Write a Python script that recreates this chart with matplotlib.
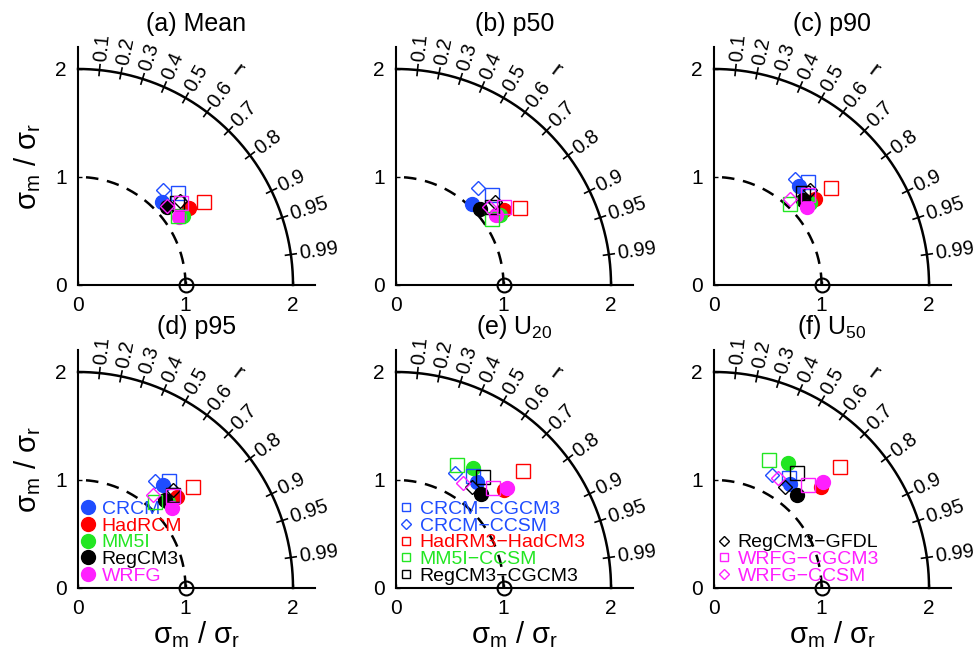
import numpy as np
import matplotlib.pyplot as plt
from matplotlib.lines import Line2D

plt.rcParams['font.family'] = ['Liberation Sans', 'DejaVu Sans']
plt.rcParams['mathtext.fontset'] = 'custom'
plt.rcParams['mathtext.rm'] = 'Liberation Sans'

BLUE = '#1f4dff'
RED = '#ff0000'
GREEN = '#22e622'
BLACK = '#000000'
MAGENTA = '#ff1fff'

# RCM ensemble means (filled circles)
rcm_names = ['CRCM', 'HadRCM', 'MM5I', 'RegCM3', 'WRFG']
rcm_colors = [BLUE, RED, GREEN, BLACK, MAGENTA]

# individual RCM-GCM runs (open markers)
run_names = ['CRCM−CGCM3', 'CRCM−CCSM', 'HadRM3−HadCM3', 'MM5I−CCSM',
             'RegCM3−CGCM3', 'RegCM3−GFDL', 'WRFG−CGCM3', 'WRFG−CCSM']
run_colors = [BLUE, BLUE, RED, GREEN, BLACK, BLACK, MAGENTA, MAGENTA]
run_markers = ['s', 'D', 's', 's', 's', 'D', 's', 'D']

# normalized std (sigma_m / sigma_r) and correlation
# order: 5 RCM means, then the 8 runs
std_mean = [1.096, 1.251, 1.170, 1.099, 1.132,
            1.260, 1.183, 1.401, 1.129, 1.193, 1.229, 1.224, 1.105]
cor_mean = [0.712, 0.823, 0.837, 0.755, 0.831,
            0.738, 0.668, 0.835, 0.824, 0.771, 0.773, 0.784, 0.751]

std_p50 = [1.026, 1.215, 1.164, 1.048, 1.134,
           1.223, 1.178, 1.357, 1.084, 1.148, 1.200, 1.232, 1.125]
cor_p50 = [0.686, 0.823, 0.831, 0.744, 0.820,
           0.733, 0.650, 0.850, 0.826, 0.775, 0.767, 0.812, 0.765]

std_p90 = [1.213, 1.234, 1.171, 1.144, 1.123,
           1.295, 1.235, 1.410, 1.028, 1.188, 1.254, 1.210, 1.068]
cor_p90 = [0.655, 0.762, 0.763, 0.726, 0.768,
           0.673, 0.610, 0.770, 0.688, 0.699, 0.712, 0.725, 0.662]

std_p95 = [1.241, 1.248, 1.160, 1.149, 1.142,
           1.308, 1.225, 1.425, 1.074, 1.230, 1.269, 1.230, 1.110]
cor_p95 = [0.640, 0.736, 0.724, 0.705, 0.763,
           0.650, 0.584, 0.753, 0.667, 0.715, 0.699, 0.721, 0.631]

std_u20 = [1.242, 1.350, 1.321, 1.174, 1.387,
           1.263, 1.195, 1.603, 1.271, 1.304, 1.173, 1.297, 1.151]
cor_u20 = [0.609, 0.741, 0.544, 0.671, 0.743,
           0.567, 0.459, 0.736, 0.444, 0.618, 0.600, 0.698, 0.539]

std_u50 = [1.192, 1.366, 1.346, 1.155, 1.414,
           1.233, 1.176, 1.623, 1.292, 1.312, 1.147, 1.296, 1.178]
cor_u50 = [0.593, 0.727, 0.514, 0.667, 0.718,
           0.568, 0.457, 0.722, 0.398, 0.587, 0.575, 0.677, 0.508]

titles = ['(a) Mean', '(b) p50', '(c) p90', '(d) p95',
          '(e) U$_{20}$', '(f) U$_{50}$']
panel_std = [std_mean, std_p50, std_p90, std_p95, std_u20, std_u50]
panel_cor = [cor_mean, cor_p50, cor_p90, cor_p95, cor_u20, cor_u50]

cor_ticks = [0.1, 0.2, 0.3, 0.4, 0.5, 0.6, 0.7, 0.8, 0.9, 0.95, 0.99]

fig = plt.figure(figsize=(9.74, 6.58), dpi=100)

lefts = [0.0801, 0.4066, 0.7331]
bottoms = [0.5669, 0.1064]
w, h = 0.2428, 0.3611

sig_label = 'σ$_{\\mathregular{m}}$ / σ$_{\\mathregular{r}}$'

for k in range(6):
    row, col = divmod(k, 3)
    ax = fig.add_axes([lefts[col], bottoms[row], w, h])
    ax.set_xlim(0, 2.2)
    ax.set_ylim(0, 2.2)
    for s in ['top', 'right']:
        ax.spines[s].set_visible(False)
    for s in ['left', 'bottom']:
        ax.spines[s].set_linewidth(1.5)
    ax.set_xticks([0, 1, 2])
    ax.set_yticks([0, 1, 2])
    ax.tick_params(direction='in', length=3, width=1, labelsize=15, pad=8)

    # arcs
    t = np.linspace(0, np.pi / 2, 300)
    ax.plot(2 * np.cos(t), 2 * np.sin(t), color='k', lw=1.8, clip_on=False)
    ax.plot(np.cos(t), np.sin(t), color='k', lw=1.8, dashes=(5, 3.5))

    # correlation ticks and labels
    for c in cor_ticks:
        th = np.arccos(c)
        ax.plot([1.95 * np.cos(th), 2.05 * np.cos(th)],
                [1.95 * np.sin(th), 2.05 * np.sin(th)], color='k', lw=1.2,
                clip_on=False)
        ax.text(2.08 * np.cos(th), 2.08 * np.sin(th), f'{c:g}',
                rotation=np.degrees(th), rotation_mode='anchor',
                ha='left', va='center', fontsize=14.5, clip_on=False)
    th_r = np.arccos(0.6)
    ax.text(2.48 * np.cos(th_r), 2.48 * np.sin(th_r), 'r',
            rotation=np.degrees(th_r) - 90, rotation_mode='anchor',
            ha='center', va='center', fontsize=16, clip_on=False)

    # reference point
    ax.plot([1], [0], marker='o', ms=10, mfc='none', mec='k', mew=1.5,
            ls='none', clip_on=False, zorder=5)

    std = np.array(panel_std[k])
    cor = np.array(panel_cor[k])
    th = np.arccos(cor)
    xs = std * np.cos(th)
    ys = std * np.sin(th)

    for i, c in enumerate(rcm_colors):
        ax.plot(xs[i], ys[i], marker='o', ms=10, color=c, ls='none', zorder=6)
    for j, (c, m) in enumerate(zip(run_colors, run_markers)):
        ms = 10 if m == 's' else 7.5
        ax.plot(xs[5 + j], ys[5 + j], marker=m, ms=ms, mfc='none', mec=c,
                mew=1.0, ls='none', zorder=7)

    ax.set_title(titles[k], fontsize=18, pad=12)
    if col == 0:
        ax.set_ylabel(sig_label, fontsize=21)
        ax.yaxis.set_label_coords(-0.15, 0.5)
    if row == 1:
        ax.set_xlabel(sig_label, fontsize=21)
        ax.xaxis.set_label_coords(0.5, -0.13)

    # legends
    if k == 3:
        handles = [Line2D([], [], marker='o', ms=10, color=c, ls='none')
                   for c in rcm_colors]
        labels = rcm_names
    elif k == 4:
        handles = [Line2D([], [], marker=run_markers[j],
                          ms=6 if run_markers[j] == 's' else 5,
                          mfc='none', mec=run_colors[j], color=run_colors[j],
                          ls='none') for j in range(5)]
        labels = run_names[:5]
    elif k == 5:
        handles = [Line2D([], [], marker=run_markers[j],
                          ms=6 if run_markers[j] == 's' else 5,
                          mfc='none', mec=run_colors[j], color=run_colors[j],
                          ls='none') for j in range(5, 8)]
        labels = run_names[5:]
    else:
        continue
    ax.legend(handles, labels, loc='lower left', bbox_to_anchor=(0.02, 0.03),
              bbox_transform=ax.transData, frameon=False, fontsize=14,
              handlelength=0.8, handletextpad=0.3, labelspacing=-0.05,
              borderpad=0, borderaxespad=0, labelcolor='linecolor')

fig.savefig('out.png', dpi=100)
